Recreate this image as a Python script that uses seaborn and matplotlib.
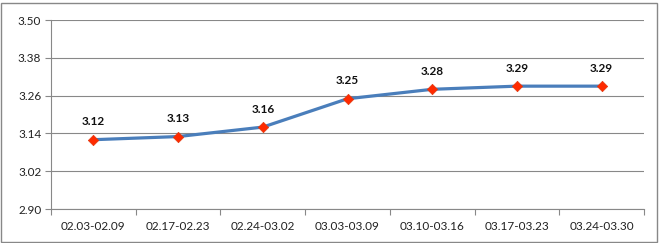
import matplotlib
matplotlib.use("Agg")
import matplotlib.pyplot as plt
import seaborn as sns
import pandas as pd
import numpy as np
from matplotlib.ticker import FixedLocator, NullFormatter
from matplotlib.patches import Rectangle

periods = ["02.03-02.09", "02.17-02.23", "02.24-03.02", "03.03-03.09",
           "03.10-03.16", "03.17-03.23", "03.24-03.30"]
values = [3.12, 3.13, 3.16, 3.25, 3.28, 3.29, 3.29]
y_ticks = [2.90, 3.02, 3.14, 3.26, 3.38, 3.50]

sns.set_theme(style="white")
plt.rcParams['font.family'] = ['Lato', 'DejaVu Sans']

df = pd.DataFrame({"period": periods, "value": values})

fig = plt.figure(figsize=(6.6, 2.43), dpi=100)
ax = fig.add_axes([51/660, 1-209/243, (644-51)/660, (209-20)/243])

sns.lineplot(data=df, x="period", y="value", ax=ax, color="#4A7EBB",
             linewidth=2.3, sort=False)
sns.scatterplot(data=df, x="period", y="value", ax=ax, marker="D",
                color="#FF2A00", s=28, edgecolor="#E03A10", linewidth=0.5,
                zorder=5)

for i, v in enumerate(values):
    ax.annotate(f"{v:.2f}", (i, v), xytext=(0, 9), textcoords="offset points",
                ha="center", va="bottom", fontsize=8.5, fontweight="bold",
                color="#111111")

ax.set_xlim(-0.5, len(periods) - 0.5)
ax.set_ylim(2.90, 3.50)
ax.set_yticks(y_ticks)
ax.set_yticklabels([f"{t:.2f}" for t in y_ticks])
ax.set_xticks(range(len(periods)))
ax.set_xticklabels(periods)
ax.xaxis.set_minor_locator(FixedLocator(np.arange(-0.5, len(periods), 1.0)))
ax.xaxis.set_minor_formatter(NullFormatter())
ax.tick_params(axis="x", which="major", length=0, labelsize=8.5, pad=9,
               colors="#222222")
ax.tick_params(axis="x", which="minor", length=4, width=0.8, color="#888888",
               bottom=True)
ax.tick_params(axis="y", which="major", length=4, width=0.8, color="#888888",
               labelsize=8.5, pad=3, left=True, labelcolor="#222222")
ax.set_xlabel("")
ax.set_ylabel("")

ax.grid(axis="y", color="#888888", linewidth=0.8)
ax.grid(axis="x", visible=False)
ax.set_axisbelow(True)
for side in ["top", "right"]:
    ax.spines[side].set_visible(False)
for side in ["left", "bottom"]:
    ax.spines[side].set_color("#888888")
    ax.spines[side].set_linewidth(0.8)

fig.patches.append(Rectangle((1/660, 1/243), 656/660, 239/243,
                             transform=fig.transFigure, fill=False,
                             edgecolor="#888888", linewidth=1.0))

fig.savefig("out.png", dpi=100)
